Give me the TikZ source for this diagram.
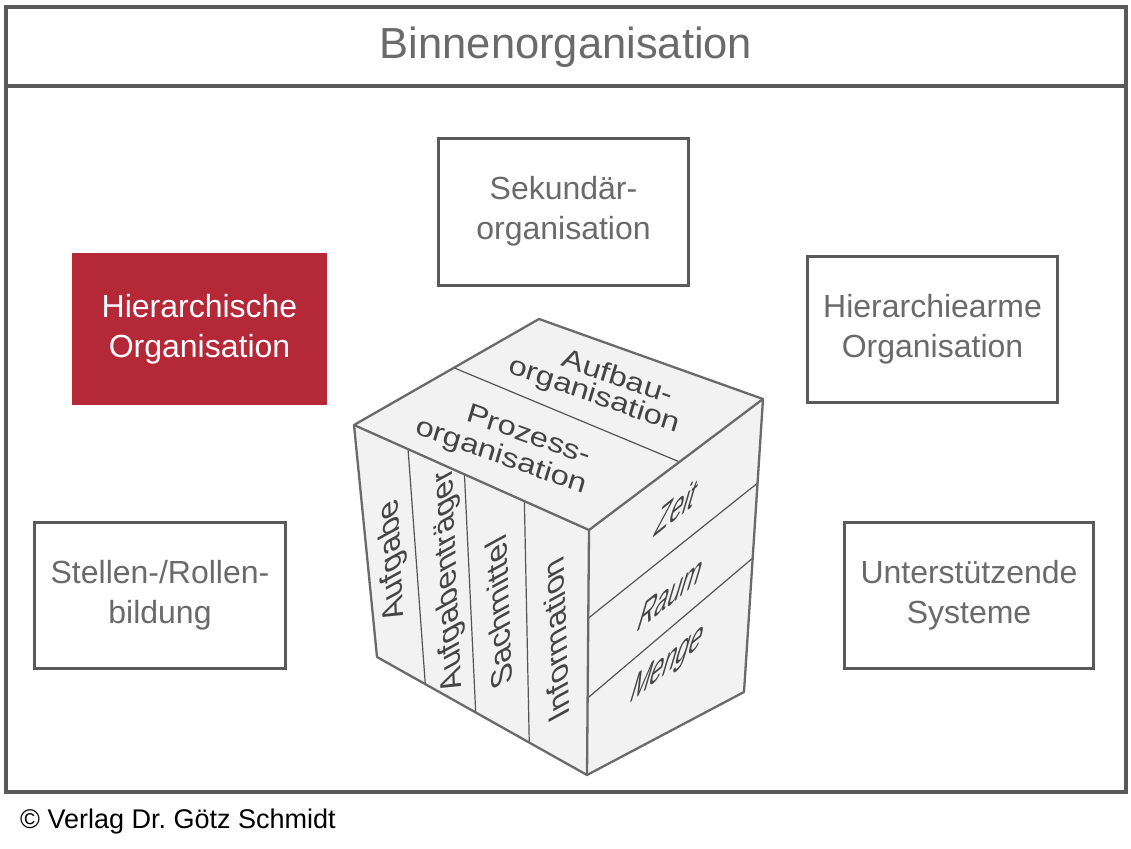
\documentclass[tikz,border=0pt]{standalone}
\usepackage{fontspec}
\setmainfont{Liberation Sans}
\usetikzlibrary{calc}
\frenchspacing
\definecolor{framecol}{HTML}{5A5A5A}
\definecolor{boxtext}{HTML}{6A6A6A}
\definecolor{cubeline}{HTML}{6A6A6A}
\definecolor{cubedivcol}{HTML}{555555}
\definecolor{cubefill}{HTML}{F2F2F2}
\definecolor{cubetext}{HTML}{444444}
\definecolor{hired}{HTML}{B52838}
\begin{document}
\begin{tikzpicture}[x=1pt,y=-1pt,
  lbl/.style={align=center, text=boxtext, font=\fontsize{32}{40}\selectfont, inner sep=0pt},
  obox/.style={lbl, draw=framecol, line width=3pt, fill=white},
  redbox/.style={lbl, fill=hired, draw=hired, line width=1pt, text=white},
  cubeface/.style={fill=cubefill, draw=none},
  cubeedge/.style={draw=cubeline, line width=2.3pt, line join=round, line cap=round},
  cubediv/.style={draw=cubedivcol, line width=1.2pt},
  ctext/.style={text=cubetext, inner sep=0pt, font=\fontsize{30}{36}\selectfont},
  topface/.style={ctext, cm={1.036,-0.37,0.26,0.86,(#1)}},
  leftface/.style={ctext, font=\fontsize{32}{38}\selectfont, cm={-0.04,1,-0.92,-0.5,(#1)}},
  rightface/.style={ctext, font=\fontsize{32}{38}\selectfont, cm={0.73,0.59,0.41,1.38,(#1)}}]
\useasboundingbox (0,0) rectangle (1131,848);
\fill[white] (0,0) rectangle (1131,848);

% outer frame and header
\draw[draw=framecol, line width=4pt] (6,7) rectangle (1126,792);
\draw[draw=framecol, line width=4pt] (6,86) -- (1126,86);
\node[lbl, font=\fontsize{43.5}{50}\selectfont] (title) at (566,47) {Binnenorganisation};

% boxes
\node[obox, minimum width=250pt, minimum height=147pt] (sek) at (563.5,211.5) {Sekundär-\\organisation};
\node[redbox, minimum width=254pt, minimum height=151pt] (hier) at (199.5,329) {Hierarchische\\Organisation};
\node[obox, minimum width=250pt, minimum height=146pt] (harm) at (932.5,329.5) {Hierarchiearme\\Organisation};
\node[obox, minimum width=251pt, minimum height=146pt] (stel) at (160,595.5) {Stellen-/Rollen-\\bildung};
\node[obox, minimum width=249pt, minimum height=146pt] (unter) at (969,595.5) {Unterstützende\\Systeme};

% cube
\coordinate (B) at (539,319);
\coordinate (L) at (354,425);
\coordinate (F) at (589,530);
\coordinate (R) at (763,399);
\coordinate (LB) at (377,657);
\coordinate (FB) at (587,775);
\coordinate (RB) at (744,692);
\fill[cubeface] (L)--(B)--(R)--(F)--cycle;
\fill[cubeface] (L)--(F)--(FB)--(LB)--cycle;
\fill[cubeface] (F)--(R)--(RB)--(FB)--cycle;
\draw[cubediv] ($(L)!0.54!(B)$) -- ($(F)!0.52!(R)$);
\foreach \f in {0.23,0.47,0.725} \draw[cubediv] ($(L)!\f!(F)$) -- ($(LB)!\f!(FB)$);
\draw[cubediv] ($(F)!0.36!(FB)$) -- ($(R)!0.287!(RB)$);
\draw[cubediv] ($(F)!0.686!(FB)$) -- ($(R)!0.543!(RB)$);
\draw[cubeedge] (L)--(B)--(R)--(RB)--(FB)--(LB)--cycle;
\draw[cubeedge] (L)--(F)--(R);
\draw[cubeedge] (F)--(FB);

% top face texts
\node[topface={618,376}] (t1) {Aufbau-};
\node[topface={594,396}] (t2) {organisation};
\node[topface={529,434}] (t3) {Prozess-};
\node[topface={501,457}] (t4) {organisation};

% left face texts
\node[leftface={393,560}] (l1) {Aufgabe};
\node[leftface={449,580}] (l2) {Aufgabenträger};
\node[leftface={499,613}] (l3) {Sachmittel};
\node[leftface={556,640}] (l4) {Information};

% right face texts
\node[rightface={677,507}] (r1) {Zeit};
\node[rightface={671,593}] (r2) {Raum};
\node[rightface={667,665}] (r3) {Menge};

% copyright
\node[inner sep=0pt, text=black, font=\fontsize{27}{32}\selectfont, anchor=west] (copy) at (20,822) {© Verlag Dr. Götz Schmidt};
\end{tikzpicture}
\end{document}
